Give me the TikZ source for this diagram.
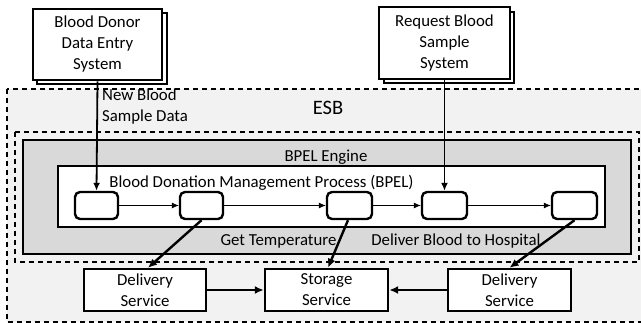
\documentclass[tikz,border=0pt]{standalone}
\usepackage{fontspec}
\setmainfont{Carlito}
\usetikzlibrary{arrows.meta,calc}
\definecolor{esbfill}{HTML}{F2F2F2}
\definecolor{enginefill}{HTML}{D9D9D9}
\begin{document}
\begin{tikzpicture}[x=1pt,y=-1pt,
  txt/.style={font=\fontsize{16.8}{21}\selectfont, inner sep=0pt, align=center},
  frontbox/.style={draw, line width=2.6pt, fill=white},
  region/.style={draw, dashed, dash pattern=on 5pt off 4pt, line width=1.1pt},
  actbox/.style={draw, line width=2.4pt, rounded corners=5pt, fill=white},
  svcbox/.style={draw, line width=2.4pt, fill=white, align=center, inner sep=0pt, font=\fontsize{16.8}{21}\selectfont},
  inflow/.style={line width=1.8pt, -{Latex[length=8pt,width=7pt]}},
  seqflow/.style={line width=0.8pt, -{Latex[length=7pt,width=6pt]}},
  svcflow/.style={line width=2.4pt, -{Latex[length=9pt,width=8pt]}}
]
\useasboundingbox (0,0) rectangle (641,323);
% ESB regions
\path[region, fill=esbfill] (7,89) rectangle (648,322);
\path[region, fill=esbfill] (15,132) rectangle (639,262);
\node[txt, font=\fontsize{20.5}{24}\selectfont] (esb) at (328,108) {ESB};
% BPEL engine
\path[draw, line width=2.8pt, fill=enginefill] (23,140) rectangle (631,254);
\node[txt] (engine) at (326,157) {BPEL Engine};
\path[draw, line width=2.4pt, fill=white] (58,166) rectangle (605,227);
\node[txt] (proc) at (261.5,183) {Blood Donation Management Process (BPEL)};
% activities
\node[actbox, minimum width=43pt, minimum height=27pt] (b1) at (96.5,205.5) {};
\node[actbox, minimum width=43pt, minimum height=27pt] (b2) at (201.5,205.5) {};
\node[actbox, minimum width=45pt, minimum height=27pt] (b3) at (349.5,205.5) {};
\node[actbox, minimum width=45pt, minimum height=27pt] (b4) at (444.5,205.5) {};
\node[actbox, minimum width=45pt, minimum height=27pt] (b5) at (574.5,205.5) {};
\draw[seqflow] (b1) -- (b2);
\draw[seqflow] (b2) -- (b3);
\draw[seqflow] (b3) -- (b4);
\draw[seqflow] (b4) -- (b5);
\node[txt] (gettemp) at (278.5,241) {Get Temperature};
\node[txt] (deliver) at (456,241) {Deliver Blood to Hospital};
% services
\node[svcbox, minimum width=122pt, minimum height=42pt] (d1) at (145,290) {Delivery\\Service};
\node[svcbox, minimum width=123pt, minimum height=42pt] (st) at (326.5,290) {Storage\\Service};
\node[svcbox, minimum width=123pt, minimum height=42pt] (d2) at (509.5,290) {Delivery\\Service};
\draw[svcflow] (d1) -- (st);
\draw[svcflow] (d2) -- (st);
\draw[svcflow] (b2.south) -- ($(d1.north)+(3,0)$);
\draw[svcflow] ($(b3.south)+(-1.5,0)$) -- ($(st.north)+(1.5,0)$);
\draw[svcflow] (b5.south) -- (d2.north);
% external systems
\path[frontbox] (37,13) rectangle (167,84);
\node[frontbox, minimum width=129pt, minimum height=71pt, txt, inner sep=0pt] (donor) at (97.5,44.5) {Blood Donor\\Data Entry\\System};
\path[frontbox] (384,12) rectangle (514,83);
\node[frontbox, minimum width=131pt, minimum height=72pt, txt, inner sep=0pt] (req) at (444.5,43) {Request Blood\\Sample\\System};
\draw[inflow] (donor.south) -- (b1.north);
\draw[inflow] (req.south) -- (b4.north);
\node[txt, align=left, anchor=west] (newdata) at (102,107) {New Blood\\Sample Data};
\end{tikzpicture}
\end{document}
